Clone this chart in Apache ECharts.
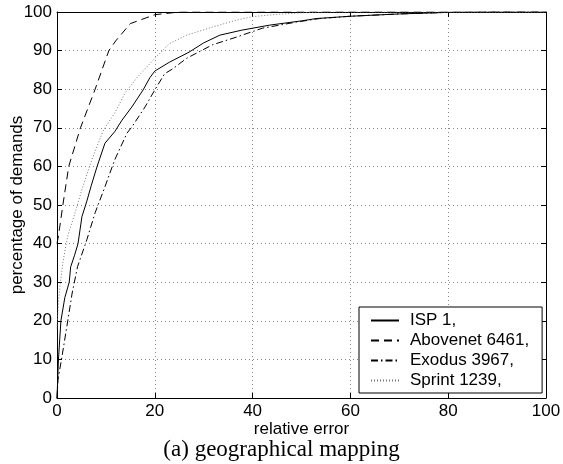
<!DOCTYPE html>
<html>
<head>
<meta charset="utf-8">
<script src="https://cdn.jsdelivr.net/npm/echarts@6/dist/echarts.min.js"></script>
<style>html,body{margin:0;padding:0;background:#fff;}#c{width:563px;height:464px;}</style>
</head>
<body>
<div id="c"></div>
<script>
// ---- data ----
const xTicks = [0, 20, 40, 60, 80, 100];
const yTicks = [0, 10, 20, 30, 40, 50, 60, 70, 80, 90, 100];
const seriesNames = ['ISP 1,', 'Abovenet 6461,', 'Exodus 3967,', 'Sprint 1239,'];

const isp1X = [0, 0.3, 0.8, 1.6, 2.5, 2.8, 3.6, 4.3, 5.1, 6.1, 7.0, 8.2, 9.8, 11.8, 13.3, 15.3, 17.6, 19.0, 20.0, 23.0, 27.0, 30.0, 33.3, 37.8, 43.5, 50, 53, 60, 70, 80, 90, 100];
const isp1Y = [0, 10, 20, 26, 30, 34, 37, 40, 47, 51, 55, 60, 66, 69, 72, 75.4, 79.8, 83, 84.7, 87, 89.6, 92, 94, 95.3, 96.6, 97.7, 98.3, 98.9, 99.5, 99.9, 100, 100];

const abovenetX = [0, 0.3, 1.2, 2.4, 4.8, 7.8, 10.6, 12.0, 15.0, 20.0, 25.0, 100];
const abovenetY = [40, 42, 50, 60, 70, 80, 90, 92.5, 97, 99.3, 100, 100];

const exodusX = [0, 0.2, 1.0, 2.0, 3.1, 4.2, 6.1, 7.8, 9.8, 11.8, 14.3, 15.3, 18.0, 20.0, 22.0, 23.7, 26.5, 31.8, 36.7, 42.0, 49.0, 53.7, 60, 70, 80, 90, 100];
const exodusY = [0, 4.7, 10.6, 18.4, 27.2, 34, 41, 48, 54.7, 61.7, 68.6, 70.2, 75.4, 79.8, 84, 85.3, 88, 91.5, 93.5, 95.8, 97.4, 98.3, 98.9, 99.5, 99.9, 100, 100];

const sprintX = [0, 0.3, 0.7, 1.2, 1.6, 2.2, 3.7, 5.1, 7.1, 9.5, 11.8, 13.9, 16.5, 20.0, 23.0, 26.5, 31.8, 36.7, 40.0, 45.0, 50.0, 55.0, 100];
const sprintY = [18, 25, 30, 35, 38, 42, 48, 54, 61.7, 69.4, 73.8, 79, 83.2, 88, 91.8, 94, 96.1, 97.9, 98.8, 99.4, 99.8, 100, 100];

function pairs(xs, ys) { return xs.map((x, i) => [x, ys[i]]); }

const FONT = 'Liberation Sans, Arial, Helvetica, sans-serif';
const chart = echarts.init(document.getElementById('c'), null, { renderer: 'canvas' });

const baseAxisLine = { show: true, onZero: false, lineStyle: { color: '#000', width: 1 } };
const tickIn = { show: true, inside: true, length: 5, lineStyle: { color: '#000', width: 1 } };
const gridLine = { show: true, lineStyle: { color: '#8a8a8a', width: 1, type: [1, 3] } };

const option = {
  animation: false,
  backgroundColor: '#fff',
  grid: { left: 57, right: 17, top: 12, bottom: 66, containLabel: false, outerBoundsMode: 'none' },
  title: {
    text: '(a) geographical mapping',
    left: 'center',
    top: 438,
    padding: 0,
    textStyle: { fontFamily: 'Liberation Serif, Times New Roman, serif', fontSize: 23, fontWeight: 'normal', color: '#000' }
  },
  legend: {
    orient: 'vertical',
    left: 359,
    top: 307,
    padding: [5, 13, 4, 11],
    itemGap: 3,
    itemWidth: 28,
    itemHeight: 17,
    backgroundColor: '#fff',
    borderColor: '#000',
    borderWidth: 1,
    borderRadius: 0,
    data: seriesNames,
    itemStyle: { opacity: 0, color: 'rgba(0,0,0,0)', borderColor: 'rgba(0,0,0,0)', borderWidth: 0 },
    textStyle: { fontFamily: FONT, fontSize: 17, color: '#000', padding: [0, 0, 0, 6] }
  },
  xAxis: [
    {
      type: 'value', min: 0, max: 100, interval: 20,
      name: 'relative error', nameLocation: 'middle', nameGap: 23, nameMoveOverlap: false,
      nameTextStyle: { fontFamily: FONT, fontSize: 17, color: '#000' },
      axisLine: baseAxisLine, axisTick: tickIn,
      axisLabel: { fontFamily: FONT, fontSize: 17, color: '#000', margin: 5 },
      splitLine: gridLine
    },
    {
      type: 'value', min: 0, max: 100, interval: 20, position: 'top',
      axisLine: baseAxisLine, axisTick: tickIn,
      axisLabel: { show: false }, splitLine: { show: false }
    }
  ],
  yAxis: [
    {
      type: 'value', min: 0, max: 100, interval: 10,
      name: 'percentage of demands', nameLocation: 'middle', nameGap: 31, nameMoveOverlap: false,
      nameTextStyle: { fontFamily: FONT, fontSize: 17, color: '#000' },
      axisLine: baseAxisLine, axisTick: tickIn,
      axisLabel: { fontFamily: FONT, fontSize: 17, color: '#000', margin: 5 },
      splitLine: gridLine
    },
    {
      type: 'value', min: 0, max: 100, interval: 10, position: 'right',
      axisLine: baseAxisLine, axisTick: tickIn,
      axisLabel: { show: false }, splitLine: { show: false }
    }
  ],
  series: [
    { name: seriesNames[0], type: 'line', data: pairs(isp1X, isp1Y), symbol: 'none', xAxisIndex: 0, yAxisIndex: 0,
      lineStyle: { color: '#000', width: 1, type: 'solid' }, itemStyle: { color: '#000' } },
    { name: seriesNames[1], type: 'line', data: pairs(abovenetX, abovenetY), symbol: 'none', xAxisIndex: 0, yAxisIndex: 0,
      lineStyle: { color: '#000', width: 1, type: [8, 5] }, itemStyle: { color: '#000' } },
    { name: seriesNames[2], type: 'line', data: pairs(exodusX, exodusY), symbol: 'none', xAxisIndex: 0, yAxisIndex: 0,
      lineStyle: { color: '#000', width: 1, type: [7, 3, 1.5, 3] }, itemStyle: { color: '#000' } },
    { name: seriesNames[3], type: 'line', data: pairs(sprintX, sprintY), symbol: 'none', xAxisIndex: 0, yAxisIndex: 0,
      lineStyle: { color: '#777', width: 1, type: [1, 2] }, itemStyle: { color: '#777' } }
  ]
};
chart.setOption(option);
</script>
</body>
</html>
